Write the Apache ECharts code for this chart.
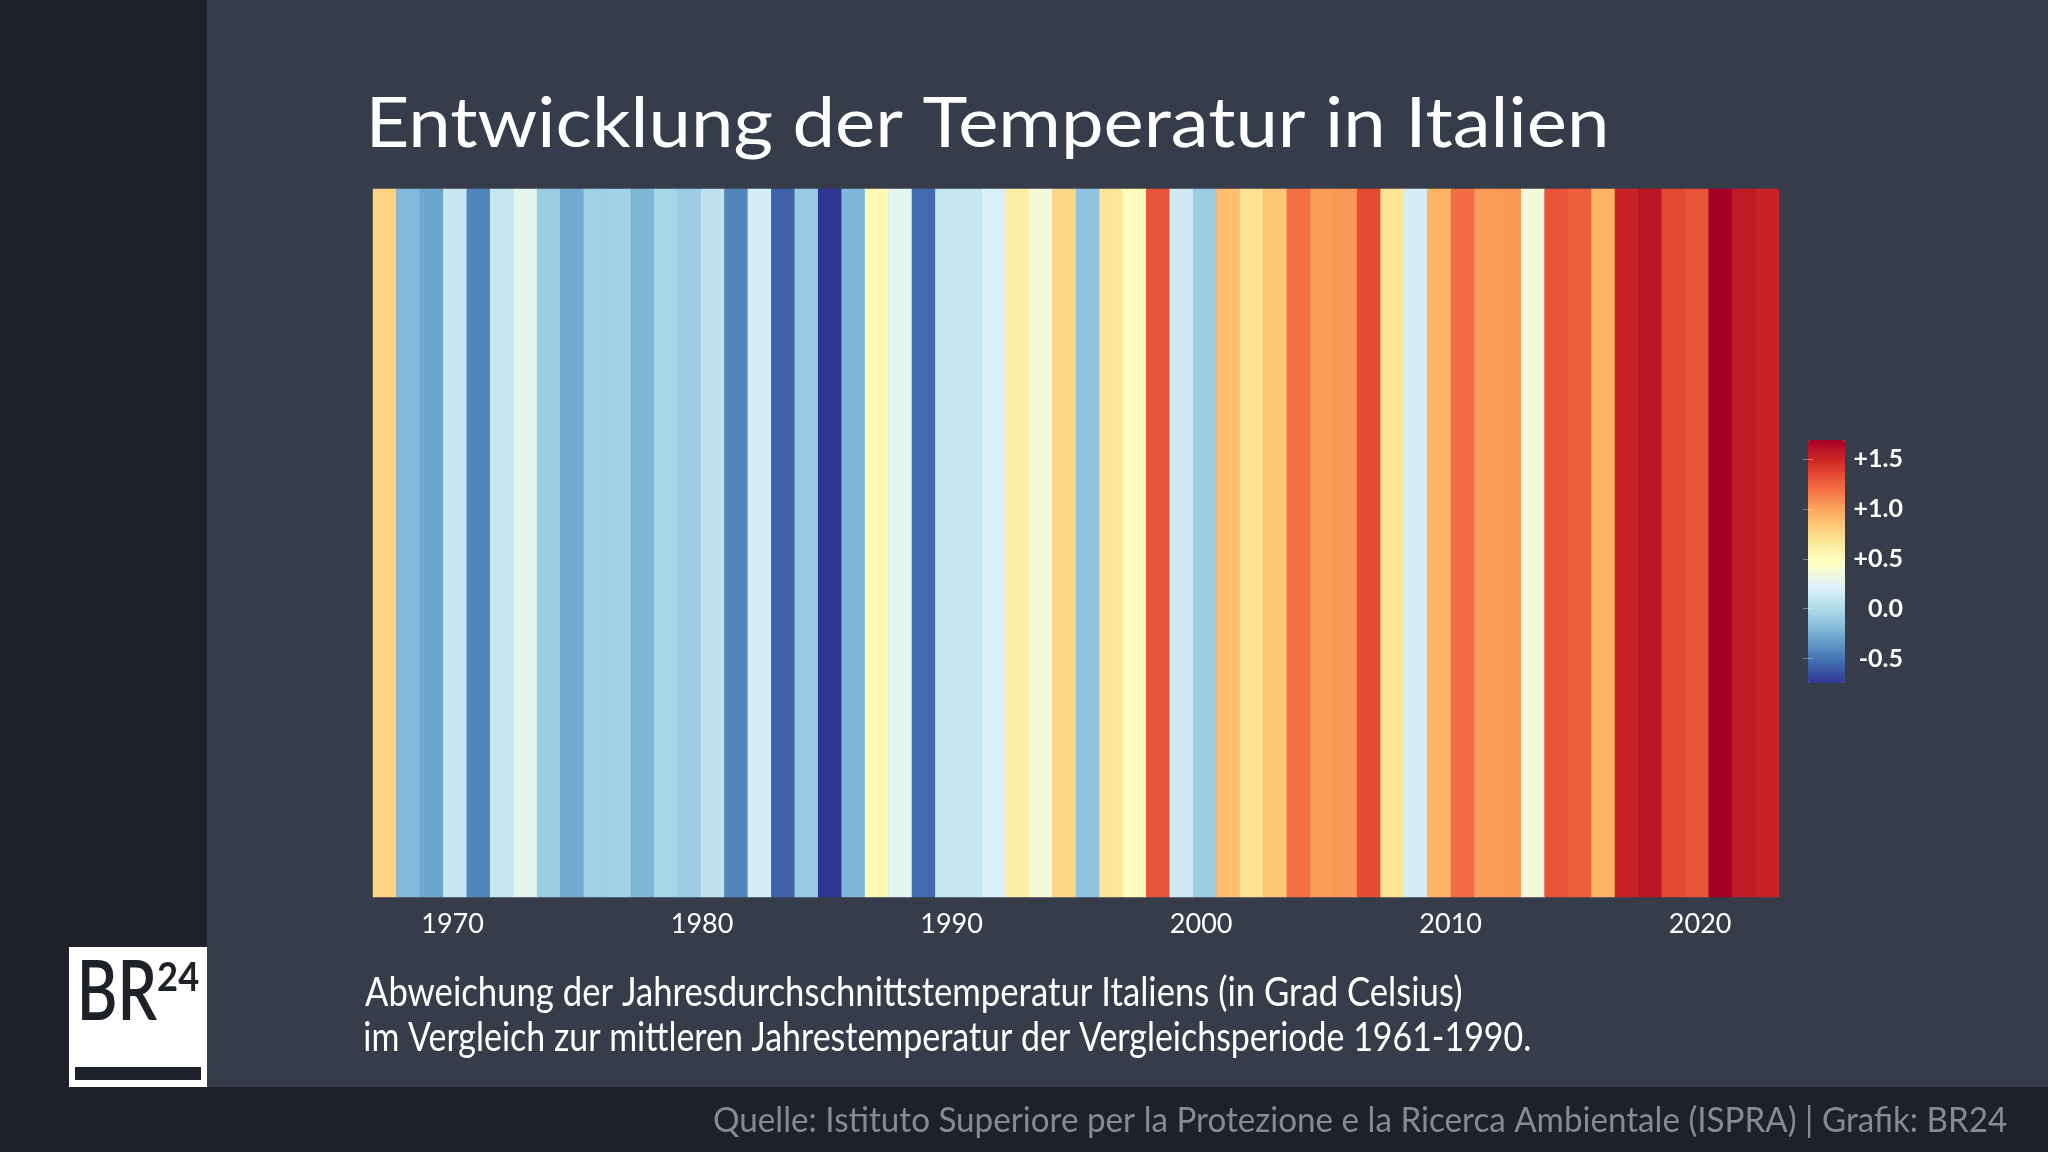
<!DOCTYPE html>
<html>
<head>
<meta charset="utf-8">
<script src="https://cdn.jsdelivr.net/npm/echarts@6/dist/echarts.min.js"></script>
<style>
html,body{margin:0;padding:0;background:#1f2129;}
#chart{width:2048px;height:1152px;}
</style>
</head>
<body>
<div id="chart"></div>
<script>
// ---- data ----
const years = [1961,1962,1963,1964,1965,1966,1967,1968,1969,1970,
  1971,1972,1973,1974,1975,1976,1977,1978,1979,1980,
  1981,1982,1983,1984,1985,1986,1987,1988,1989,1990,
  1991,1992,1993,1994,1995,1996,1997,1998,1999,2000,
  2001,2002,2003,2004,2005,2006,2007,2008,2009,2010,
  2011,2012,2013,2014,2015,2016,2017,2018,2019,2020];
const anomalies = [0.78,-0.19,-0.29,0.12,-0.43,0.11,0.27,-0.08,-0.27,-0.06,
  -0.05,-0.21,-0.03,-0.08,0.07,-0.43,0.18,-0.58,-0.10,-0.745,
  -0.21,0.52,0.26,-0.54,0.11,0.11,0.21,0.61,0.36,0.76,
  -0.13,0.68,0.50,1.30,0.14,-0.08,0.88,0.69,0.84,1.20,
  1.03,1.04,1.34,0.68,0.18,0.93,1.21,1.03,1.04,0.36,
  1.30,1.26,0.93,1.52,1.58,1.35,1.30,1.69,1.56,1.52];
const yearTicks = [1970,1980,1990,2000,2010,2020];
const scaleTicks = [-0.5,0,0.5,1,1.5];
const scaleMin = -0.745, scaleMax = 1.69;
const yearAxisMin = 1966.81, yearAxisMax = 2023.16;
const palette = ['#313695','#4575b4','#74add1','#abd9e9','#e0f3f8','#ffffbf','#fee090','#fdae61','#f46d43','#d73027','#a50026'];

const titleText = 'Entwicklung der Temperatur in Italien';
const subLine1 = 'Abweichung der Jahresdurchschnittstemperatur Italiens (in Grad Celsius)';
const subLine2 = 'im Vergleich zur mittleren Jahrestemperatur der Vergleichsperiode 1961-1990.';
const footerText = 'Quelle: Istituto Superiore per la Protezione e la Ricerca Ambientale (ISPRA) | Grafik: BR24';

// ---- text fitting helper (layout only) ----
const mctx = document.createElement('canvas').getContext('2d');
function fitText(text, weight, size, family, left, right, y, fill){
  mctx.font = weight + ' ' + size + 'px ' + family;
  const m = mctx.measureText(text);
  const ink = m.actualBoundingBoxLeft + m.actualBoundingBoxRight;
  const s = (right - left) / ink;
  return {
    type:'text', x: left + m.actualBoundingBoxLeft * s, y: y, scaleX: s, z: 20,
    style:{text: text, fill: fill, fontSize: size, fontWeight: weight, fontFamily: family, align:'left', verticalAlign:'middle'}
  };
}

const heatData = anomalies.map((v,i)=>[i,0,v]);

const chart = echarts.init(document.getElementById('chart'), null, {renderer:'canvas'});
chart.setOption({
  backgroundColor:'#1f2129',
  animation:false,
  grid:[
    {left:373, top:189, width:1406, height:708, outerBoundsMode:'none', containLabel:false},
    {left:1808, top:440, width:37, height:243, outerBoundsMode:'none', containLabel:false}
  ],
  xAxis:[
    {type:'category', gridIndex:0, data:years, show:false, boundaryGap:true},
    {type:'value', gridIndex:0, min:yearAxisMin, max:yearAxisMax, position:'bottom',
      axisLine:{show:false}, axisTick:{show:false}, splitLine:{show:false},
      axisLabel:{customValues:yearTicks, color:'#ffffff', fontSize:27, fontFamily:'Lato', margin:14,
        formatter:function(v){ return String(Math.round(v)); }}},
    {type:'value', gridIndex:1, show:false, min:0, max:1}
  ],
  yAxis:[
    {type:'category', gridIndex:0, data:[''], show:false},
    {type:'value', gridIndex:1, min:scaleMin, max:scaleMax, position:'right', z:10,
      axisLine:{show:false}, splitLine:{show:false},
      axisTick:{show:true, inside:true, length:5, customValues:scaleTicks, lineStyle:{color:'rgba(255,255,255,0.35)', width:1}},
      axisLabel:{customValues:scaleTicks, color:'#ffffff', fontSize:25, fontWeight:'bold', fontFamily:'Lato', align:'right', margin:58,
        formatter:function(v){ return (v>0?'+':'') + v.toFixed(1); }}},
    {type:'value', gridIndex:1, min:scaleMin, max:scaleMax, position:'left', z:10,
      axisLine:{show:false}, splitLine:{show:false}, axisLabel:{show:false},
      axisTick:{show:true, inside:true, length:5, customValues:scaleTicks, lineStyle:{color:'rgba(255,255,255,0.35)', width:1}}}
  ],
  visualMap:[{
    type:'continuous', min:scaleMin, max:scaleMax, seriesIndex:0,
    left:1808, top:440, itemWidth:37, itemHeight:243, padding:0,
    calculable:false, hoverLink:false, inRange:{color:palette}, z:2
  }],
  graphic:[
    {type:'rect', shape:{x:207, y:0, width:1841, height:1087}, style:{fill:'#373c4b'}, z:-10, silent:true},
    {type:'rect', shape:{x:69, y:947, width:138, height:140}, style:{fill:'#ffffff'}, z:5},
    {type:'rect', shape:{x:75, y:1067, width:126, height:13}, style:{fill:'#1f2129'}, z:6},
    fitText('BR', '600', 82, 'Lato', 82, 157, 994, '#1f2129'),
    fitText('24', 'bold', 40, 'Lato', 158, 199, 978, '#1f2129'),
    fitText(titleText, '400', 70, 'Lato', 372, 1605, 124, '#ffffff'),
    fitText(subLine1, '400', 40, 'Lato', 365, 1461, 993, '#ffffff'),
    fitText(subLine2, '400', 40, 'Lato', 365, 1530, 1038, '#ffffff'),
    fitText(footerText, '400', 35, 'Lato', 714, 2007, 1121, '#878a94')
  ],
  series:[{
    type:'heatmap', xAxisIndex:0, yAxisIndex:0, data:heatData,
    itemStyle:{borderWidth:0}, emphasis:{disabled:true}, silent:true
  }]
});
</script>
</body>
</html>
